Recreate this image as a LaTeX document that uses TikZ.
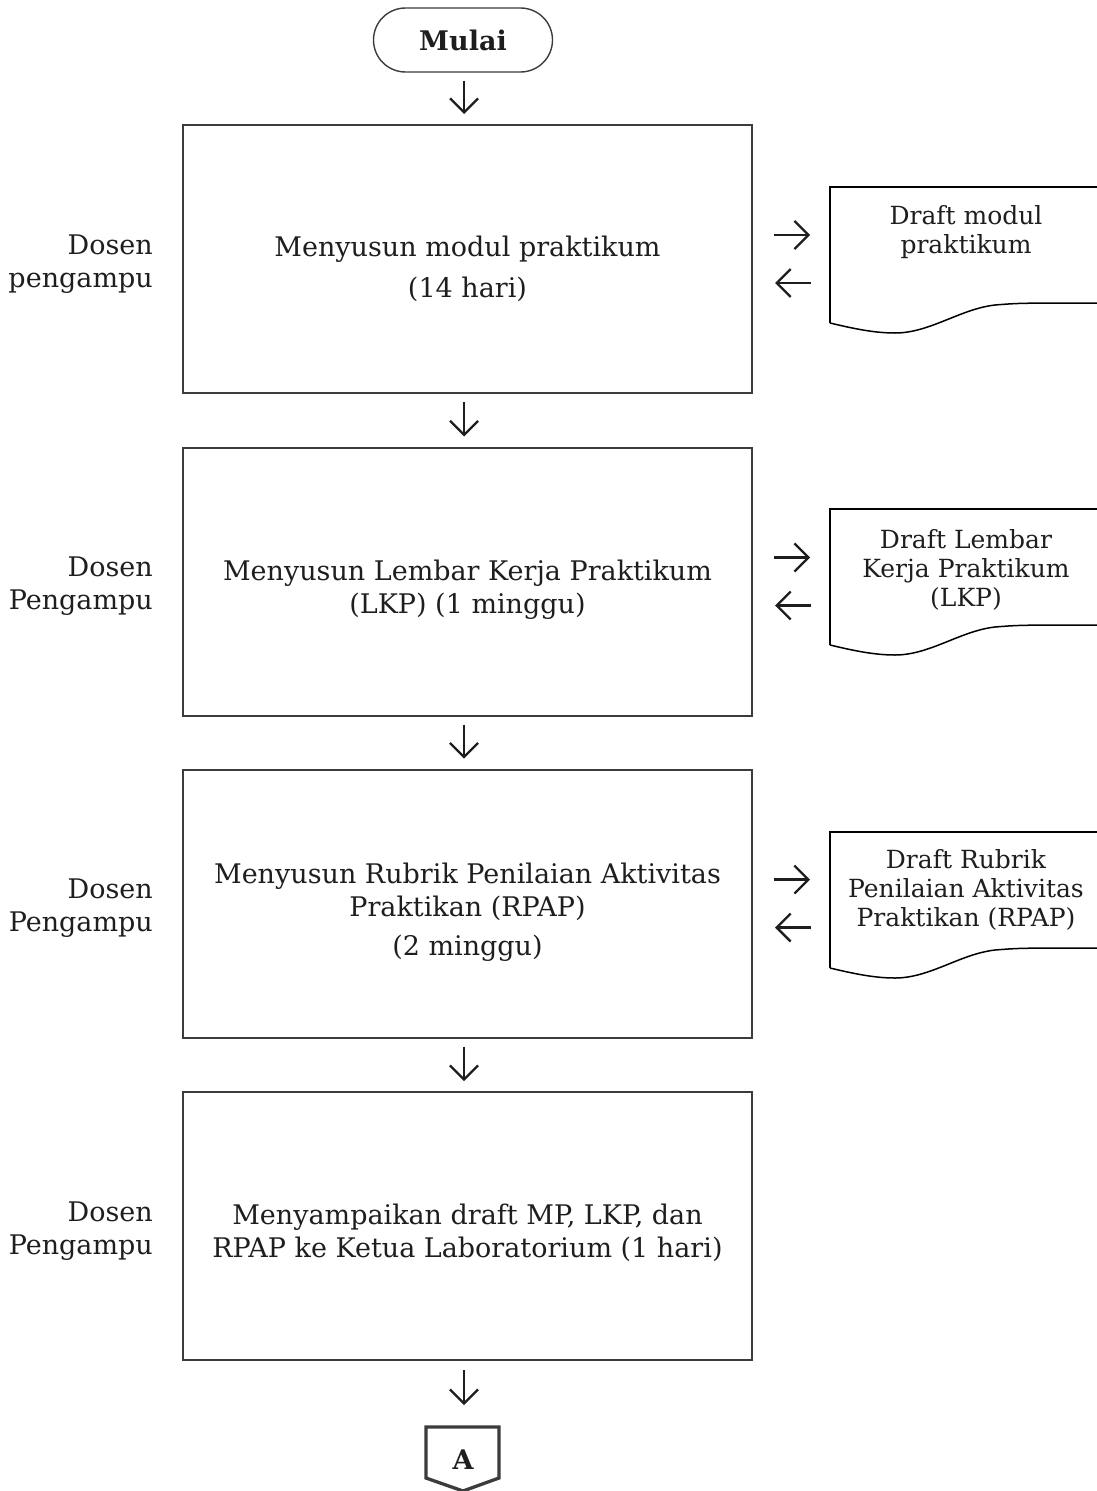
\documentclass[tikz,border=0pt]{standalone}
\usepackage{fontspec}
\setmainfont{DejaVu Serif}
\usetikzlibrary{arrows.meta,calc}
\definecolor{boxline}{HTML}{3C3C3C}
\definecolor{txt}{HTML}{1E1E1E}
\tikzset{
  mainfont/.style={font=\fontsize{27}{33}\selectfont, text=txt},
  docfont/.style={font=\fontsize{25}{29}\selectfont, text=txt},
  procbox/.style={draw=boxline, line width=2pt, minimum width=569pt, minimum height=268pt, inner sep=0pt},
  terminal/.style={draw=boxline, line width=1.4pt, rounded corners=32pt, minimum width=179pt, minimum height=64pt, inner sep=0pt, font=\fontsize{27}{33}\selectfont\bfseries, text=txt},
  txtnode/.style={mainfont, align=center, inner sep=0pt},
  lbl/.style={mainfont, align=right, anchor=east, inner sep=0pt},
  doctext/.style={docfont, align=center, inner sep=0pt},
  docline/.style={draw=black, line width=1.5pt},
  arr/.style={-{Straight Barb[length=14pt,width=28pt,line width=2.3pt]}, line width=2.3pt, draw=txt},
  pics/docpic/.style={code={
    \draw[docline] (0,136) -- (0,0) -- (275,0);
    \draw[docline] (0,136) .. controls (25,142) and (45,146) .. (65,146)
      .. controls (100,146) and (130,122) .. (165,118)
      .. controls (190,116) .. (275,116);
  }}
}
\begin{document}
\begin{tikzpicture}[x=1pt,y=-1pt]
\useasboundingbox (0,0) rectangle (1096,1491);

% start
\node[terminal] (mulai) at (463,40) {Mulai};

% process boxes
\node[procbox] (b1) at (467.5,259) {};
\node[procbox] (b2) at (467.5,581.5) {};
\node[procbox] (b3) at (467.5,903.5) {};
\node[procbox] (b4) at (467.5,1226) {};

\node[txtnode] (t1) at (467.5,269) {Menyusun modul praktikum\\[8pt](14 hari)};
\node[txtnode] (t2) at (467.5,590) {Menyusun Lembar Kerja Praktikum\\(LKP) (1 minggu)};
\node[txtnode] (t3) at (467.5,912.5) {Menyusun Rubrik Penilaian Aktivitas\\Praktikan (RPAP)\\[6pt](2 minggu)};
\node[txtnode] (t4) at (467.5,1232.5) {Menyampaikan draft MP, LKP, dan\\RPAP ke Ketua Laboratorium (1 hari)};

% actor labels
\node[lbl] (l1) at (153,264.5) {Dosen\\pengampu};
\node[lbl] (l2) at (153,586.5) {Dosen\\Pengampu};
\node[lbl] (l3) at (153,908) {Dosen\\Pengampu};
\node[lbl] (l4) at (153,1231.5) {Dosen\\Pengampu};

% documents
\pic at (830,187) {docpic};
\pic at (830,509) {docpic};
\pic at (830,832) {docpic};
\node[doctext] (d1) at (966,232) {Draft modul\\praktikum};
\node[doctext] (d2) at (966,569.5) {Draft Lembar\\Kerja Praktikum\\(LKP)};
\node[doctext] (d3) at (966,890) {Draft Rubrik\\Penilaian Aktivitas\\Praktikan (RPAP)};

% off-page connector
\node[font=\fontsize{27}{33}\selectfont\bfseries, text=txt, inner sep=0pt] (a) at (463,1460) {A};
\draw[draw=boxline, line width=3.3pt, line join=miter]
  ($(a)+(-37,-33)$) -- ($(a)+(36,-33)$) -- ($(a)+(36,18)$) -- ($(a)+(0,31)$) -- ($(a)+(-37,18)$) -- cycle;

% vertical flow arrows
\draw[arr] ($(mulai.south)+(1,8)$) -- ($(b1.north)+(-3.5,-10)$);
\draw[arr] ($(b1.south)+(-3.5,8)$) -- ($(b2.north)+(-3.5,-10)$);
\draw[arr] ($(b2.south)+(-3.5,8)$) -- ($(b3.north)+(-3.5,-10)$);
\draw[arr] ($(b3.south)+(-3.5,8)$) -- ($(b4.north)+(-3.5,-10)$);
\draw[arr] ($(b4.south)+(-3.5,9)$) -- ($(a)+(1,-55)$);

% document exchange arrows
\foreach \b in {b1,b2,b3}{
  \draw[arr] ($(\b.east)+(21,-24)$) -- ($(\b.east)+(57,-24)$);
  \draw[arr] ($(\b.east)+(58,24)$) -- ($(\b.east)+(22,24)$);
}
\end{tikzpicture}
\end{document}
